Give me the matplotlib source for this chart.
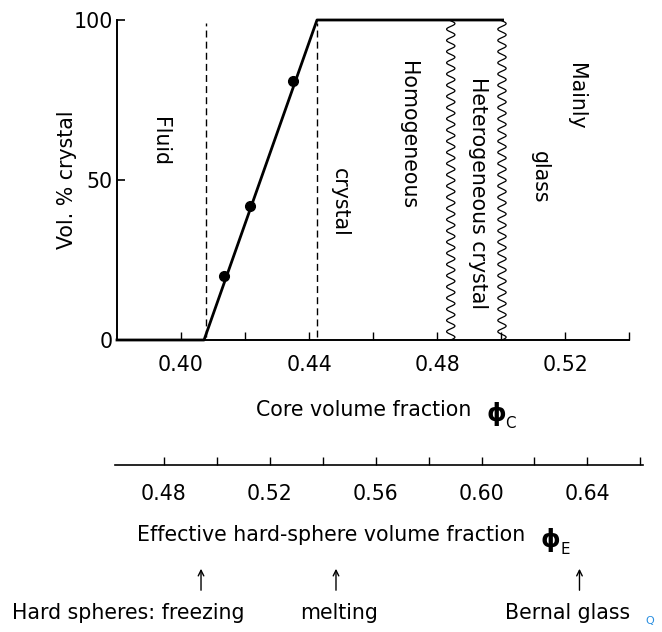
import numpy as np
import matplotlib
matplotlib.use("Agg")
import matplotlib.pyplot as plt

plt.rcParams['font.family'] = ['DejaVu Sans']
FS = 14.8

# ---- data ----
line_x = [0.38, 0.4072, 0.4425, 0.5005]
line_y = [0, 0, 100, 100]
pts_x = [0.4135, 0.4215, 0.4350]
pts_y = [20, 42, 81]
dashed_x = [0.4078, 0.4425]
wavy_x = [0.4843, 0.5003]
core_major = [0.40, 0.44, 0.48, 0.52]
core_minor = [0.42, 0.46, 0.50, 0.54]
yticks = [0, 50, 100]
eff_major = [0.48, 0.52, 0.56, 0.60, 0.64]
eff_minor = [0.50, 0.54, 0.58, 0.62, 0.66]
regions = [("Fluid", 0.3934, 62), ("crystal", 0.4497, 43), ("Homogeneous", 0.4710, 64),
           ("Heterogeneous crystal", 0.4928, 46), ("Mainly", 0.5235, 76), ("glass", 0.5122, 51)]
markers = [("Hard spheres: freezing", 0.494, 128), ("melting", 0.545, 339), ("Bernal glass", 0.637, 568)]

W, H = 662, 632
fig = plt.figure(figsize=(W/100, H/100), dpi=100)

def fx(px): return px / W
def fy(py): return 1 - py / H

ax = fig.add_axes([fx(117), fy(340), fx(629) - fx(117), fy(20) - fy(340)])
ax.set_xlim(0.38, 0.54)
ax.set_ylim(0, 100)
for s in ['top', 'right']:
    ax.spines[s].set_visible(False)
for s in ['left', 'bottom']:
    ax.spines[s].set_linewidth(1.4)
ax.spines['left'].set_bounds(0, 100)

ax.plot(line_x, line_y, color='black', lw=2.0, clip_on=False)
ax.plot(pts_x, pts_y, 'o', color='black', ms=7)
for x in dashed_x:
    ax.plot([x, x], [1, 99], color='black', lw=1.0, ls=(0, (5, 3)))
yy = np.linspace(0, 100, 800)
amp = 0.0013
for x in wavy_x:
    ax.plot(x + amp * np.sin(2 * np.pi * yy / 3.5), yy, color='black', lw=0.9)

ax.set_xticks(core_major)
ax.set_xticklabels([f"{v:.2f}" for v in core_major])
ax.set_xticks(core_minor, minor=True)
ax.set_yticks(yticks)
ax.set_yticklabels([str(v) for v in yticks])
ax.tick_params(axis='x', which='both', direction='in', length=6, width=1, labelsize=FS, pad=11)
ax.tick_params(axis='y', direction='in', length=6, width=1.2, labelsize=FS, pad=3)

for txt, x, y in regions:
    ax.text(x, y, txt, rotation=-90, ha='center', va='center', fontsize=FS)

fig.text(fx(67), fy(180), "Vol. % crystal", rotation=90, ha='center', va='center', fontsize=FS)
fig.text(fx(364), fy(410), "Core volume fraction", ha='center', va='center', fontsize=FS)
fig.text(fx(496), fy(414), "ϕ", ha='center', va='center', fontsize=FS + 3, fontweight='bold')
fig.text(fx(510), fy(424), "C", ha='center', va='center', fontsize=FS - 4)

# second axis
ax2 = fig.add_axes([fx(115), fy(465), fx(643) - fx(115), 0.001])
ax2.set_xlim(0.4615, 0.661)
ax2.set_ylim(0, 1)
for s in ['top', 'right', 'left']:
    ax2.spines[s].set_visible(False)
ax2.spines['bottom'].set_linewidth(1.2)
ax2.set_yticks([])
ax2.set_xticks(eff_major)
ax2.set_xticklabels([f"{v:.2f}" for v in eff_major])
ax2.set_xticks(eff_minor, minor=True)
ax2.tick_params(axis='x', which='both', direction='in', length=6, width=1, labelsize=FS, pad=14)
ax2.patch.set_visible(False)

fig.text(fx(331), fy(535), "Effective hard-sphere volume fraction", ha='center', va='center', fontsize=FS)
fig.text(fx(550), fy(540), "ϕ", ha='center', va='center', fontsize=FS + 3, fontweight='bold')
fig.text(fx(565), fy(549), "E", ha='center', va='center', fontsize=FS - 4)

for txt, xe, cx in markers:
    ax2.annotate("", xy=(xe, fy(566)), xytext=(xe, fy(593)),
                 xycoords=('data', 'figure fraction'), textcoords=('data', 'figure fraction'),
                 arrowprops=dict(arrowstyle='->', color='black', lw=1.0))
    fig.text(fx(cx), fy(613), txt, ha='center', va='center', fontsize=FS)

fig.text(fx(650), fy(621), "Q", color='#2a8fe0', fontsize=8, ha='center', va='center')

fig.savefig("out.png", dpi=100)
